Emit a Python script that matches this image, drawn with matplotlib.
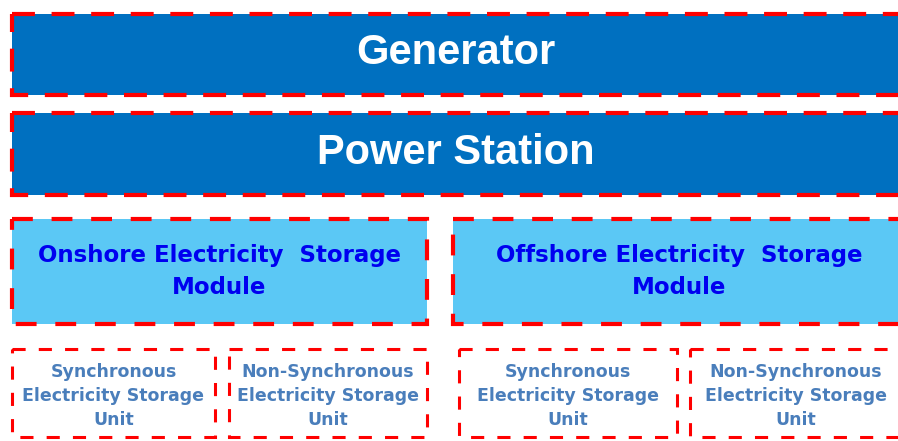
import matplotlib
matplotlib.use("Agg")
import matplotlib.pyplot as plt
from matplotlib.patches import Rectangle

# ---- content ----
top_labels = ["Generator", "Power Station"]
module_labels = ["Onshore Electricity  Storage\nModule",
                 "Offshore Electricity  Storage\nModule"]
unit_labels = ["Synchronous\nElectricity Storage\nUnit",
               "Non-Synchronous\nElectricity Storage\nUnit",
               "Synchronous\nElectricity Storage\nUnit",
               "Non-Synchronous\nElectricity Storage\nUnit"]

# ---- layout (pixel coordinates, y downward) ----
W, H = 898, 441
top_boxes = [(12, 14, 890, 81), (12, 113, 890, 82)]
module_boxes = [(12, 219, 415, 105), (453, 219, 452, 105)]
unit_boxes = [(12, 349, 203, 88), (229, 349, 198, 88),
              (459, 349, 218, 88), (690, 349, 212, 88)]

DARK = "#0070C0"
LIGHT = "#5BC8F5"
RED = "#FF0000"
MOD_TXT = "#0000F0"
UNIT_TXT = "#4A7EBB"

fig = plt.figure(figsize=(W / 100, H / 100), dpi=100)
ax = fig.add_axes([0, 0, 1, 1])
ax.set_xlim(0, W)
ax.set_ylim(H, 0)
ax.axis("off")


def box(rect, face, lw, dash):
    x, y, w, h = rect
    ax.add_patch(Rectangle((x, y), w, h, facecolor=face, edgecolor="none"))
    ax.add_patch(Rectangle((x, y), w, h, facecolor="none", edgecolor=RED,
                           linewidth=lw, linestyle=(0, dash),
                           joinstyle="miter"))


for rect, lab in zip(top_boxes, top_labels):
    box(rect, DARK, 3.0, (5.5, 4.0))
    x, y, w, h = rect
    ax.text(456, y + h / 2 - 1, lab, ha="center", va="center",
            color="white", fontsize=30, fontweight="bold",
            family="Liberation Sans")

for rect, lab in zip(module_boxes, module_labels):
    box(rect, LIGHT, 3.0, (5.0, 4.5))
    x, y, w, h = rect
    ax.text(x + w / 2, y + h / 2, lab, ha="center", va="center",
            color=MOD_TXT, fontsize=16.5, fontweight="bold",
            family="DejaVu Sans", linespacing=1.5)

for rect, lab in zip(unit_boxes, unit_labels):
    box(rect, "none", 2.2, (4.3, 4.3))
    x, y, w, h = rect
    ax.text(x + w / 2, y + h / 2 + 3, lab, ha="center", va="center",
            color=UNIT_TXT, fontsize=12.5, fontweight="bold",
            family="DejaVu Sans", linespacing=1.42)

fig.savefig("out.png", dpi=100)
